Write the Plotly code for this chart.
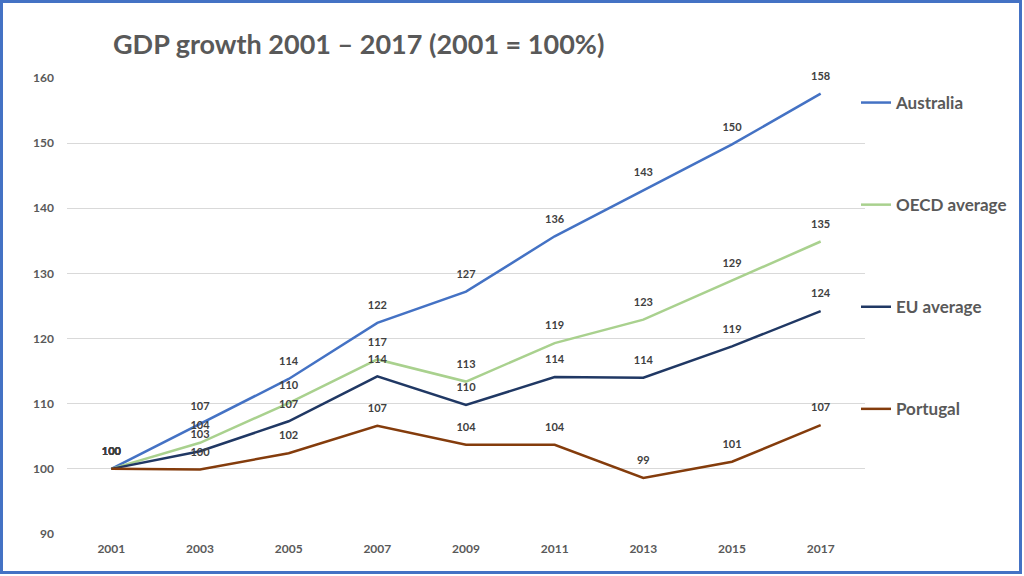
import plotly.graph_objects as go

years = [2001, 2003, 2005, 2007, 2009, 2011, 2013, 2015, 2017]
australia = [100, 106.9, 113.8, 122.4, 127.2, 135.7, 142.8, 149.8, 157.6]
oecd = [100, 104.0, 110.1, 116.8, 113.4, 119.3, 122.9, 128.9, 134.9]
eu = [100, 102.7, 107.3, 114.2, 109.8, 114.1, 114.0, 118.8, 124.2]
portugal = [100, 99.9, 102.4, 106.6, 103.7, 103.7, 98.6, 101.1, 106.7]

series = [
    ("Australia", australia, "#4472C4"),
    ("OECD average", oecd, "#A9D18E"),
    ("EU average", eu, "#203864"),
    ("Portugal", portugal, "#843C0C"),
]

W, H = 1024, 576
ML, MR, MT, MB = 67, 159, 78, 42
PW, PH = W - ML - MR, H - MT - MB
FONT = "Lato"

fig = go.Figure()
for name, vals, col in series:
    fig.add_trace(go.Scatter(
        x=years, y=vals, name=name, mode="lines+markers+text",
        line=dict(color=col, width=2.5),
        marker=dict(size=16, color="rgba(0,0,0,0)"),
        text=[f"{v:.0f}" for v in vals], textposition="top center",
        textfont=dict(family=FONT, size=11, color="#404040", weight="bold"),
        legendgroup=name, cliponaxis=False, hoverinfo="x+y+name",
    ))

def px_x(p):
    return (p - ML) / PW

def px_y(p):
    return (H - MB - p) / PH

fig.update_layout(
    width=W, height=H,
    margin=dict(l=ML, r=MR, t=MT, b=MB),
    paper_bgcolor="white", plot_bgcolor="white",
    title=dict(text="GDP growth 2001 – 2017 (2001 = 100%)",
               x=113 / W, xanchor="left",
               y=1 - 45 / H, yanchor="middle",
               font=dict(family=FONT, size=27, color="#595959", weight="bold")),
    xaxis=dict(range=[2000, 2018], tickmode="array", tickvals=years,
               ticktext=[str(y) for y in years], showgrid=False, zeroline=False,
               showline=False, ticks="", ticklabelstandoff=6,
               tickfont=dict(family=FONT, size=12, color="#595959", weight="bold")),
    yaxis=dict(range=[90, 160], dtick=10, showgrid=True, gridcolor="#D9D9D9",
               gridwidth=1, zeroline=False, showline=False, ticks="",
               ticklabelstandoff=12,
               tickfont=dict(family=FONT, size=12, color="#595959", weight="bold")),
    legend=dict(x=px_x(856), xanchor="left", y=px_y(85), yanchor="top",
                tracegroupgap=77, itemwidth=30,
                font=dict(family=FONT, size=17, color="#595959", weight="bold"),
                bgcolor="rgba(0,0,0,0)"),
    showlegend=True,
)

fig.add_shape(type="rect", xref="paper", yref="paper",
              x0=px_x(1.5), x1=px_x(1020.5), y0=px_y(572.5), y1=px_y(1.5),
              line=dict(color="#4472C4", width=3), fillcolor="rgba(0,0,0,0)",
              layer="above")

fig.write_html("out.html", config={"displayModeBar": False},
               post_script="document.body.style.margin='0';document.body.style.padding='0';")
